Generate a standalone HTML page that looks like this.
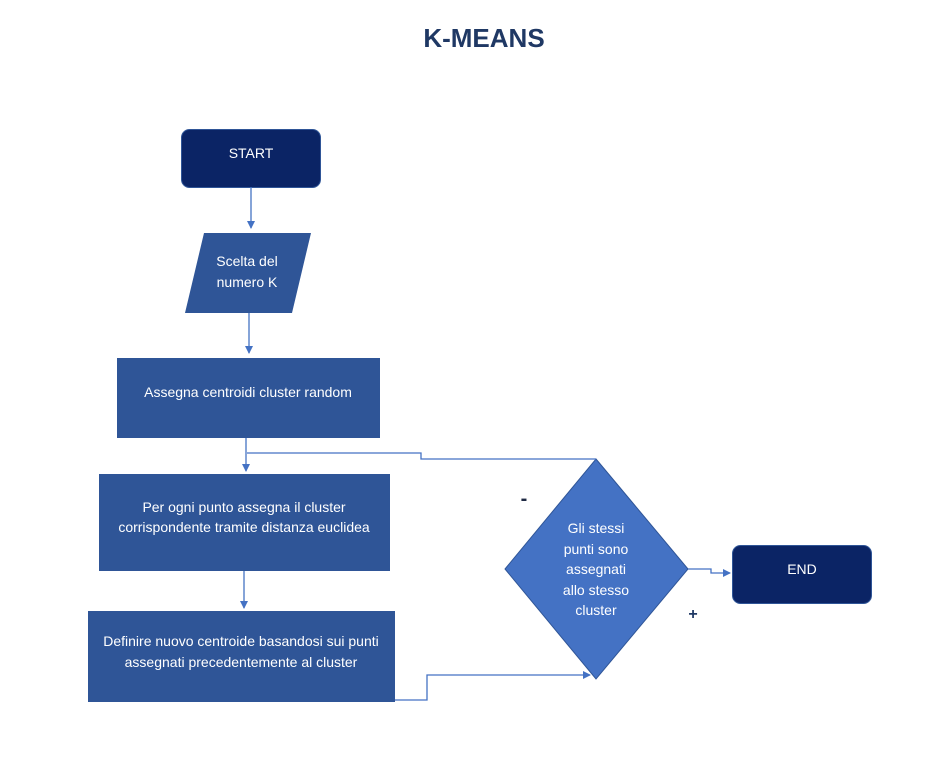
<!DOCTYPE html>
<html><head><meta charset="utf-8"><style>
body{margin:0;background:#fff;}
svg{display:block;}
text{font-family:"Liberation Sans",sans-serif;fill:#fff;font-size:14px;}
</style></head><body>
<svg width="944" height="768" viewBox="0 0 944 768">
<defs><marker id="a" markerWidth="8" markerHeight="8" refX="7" refY="4" orient="auto" markerUnits="userSpaceOnUse"><path d="M0,0 L8,4 L0,8z" fill="#4472c4"/></marker></defs>
<text x="484" y="47" text-anchor="middle" style="font-size:26px;font-weight:bold;fill:#1f3864">K-MEANS</text>
<rect x="181.5" y="129.5" width="139" height="58" rx="8" fill="#0b2465" stroke="#2f5597"/>
<text x="251" y="158" text-anchor="middle">START</text>
<polygon points="204,233 311,233 292,313 185,313" fill="#2f5597"/>
<text x="247" y="266" text-anchor="middle">Scelta del</text>
<text x="247" y="287" text-anchor="middle">numero K</text>
<rect x="117" y="358" width="263" height="80" fill="#2f5597"/>
<text x="248" y="397" text-anchor="middle">Assegna centroidi cluster random</text>
<rect x="99" y="474" width="291" height="97" fill="#2f5597"/>
<text x="244" y="512" text-anchor="middle">Per ogni punto assegna il cluster</text>
<text x="244" y="532" text-anchor="middle">corrispondente tramite distanza euclidea</text>
<rect x="88" y="611" width="307" height="91" fill="#2f5597"/>
<text x="241" y="646" text-anchor="middle">Definire nuovo centroide basandosi sui punti</text>
<text x="241" y="667" text-anchor="middle">assegnati precedentemente al cluster</text>
<polygon points="596,459 688,569 596,679 505,569" fill="#4472c4" stroke="#2f5597"/>
<text x="596" y="533" text-anchor="middle">Gli stessi</text>
<text x="596" y="554" text-anchor="middle">punti sono</text>
<text x="596" y="574" text-anchor="middle">assegnati</text>
<text x="596" y="595" text-anchor="middle">allo stesso</text>
<text x="596" y="615" text-anchor="middle">cluster</text>
<rect x="732.5" y="545.5" width="139" height="58" rx="8" fill="#0b2465" stroke="#2f5597"/>
<text x="802" y="574" text-anchor="middle">END</text>
<text x="524" y="505" text-anchor="middle" style="fill:#1f2a44;font-size:20px;font-weight:bold">-</text>
<text x="693" y="619" text-anchor="middle" style="fill:#1f3864;font-size:16px;font-weight:bold">+</text>
<g stroke="#4472c4" stroke-width="1.3" fill="none">
<line x1="251" y1="187" x2="251" y2="228" marker-end="url(#a)"/>
<line x1="249" y1="313" x2="249" y2="353" marker-end="url(#a)"/>
<line x1="246" y1="438" x2="246" y2="471" marker-end="url(#a)"/>
<line x1="244" y1="571" x2="244" y2="608" marker-end="url(#a)"/>
<polyline points="596,459 421,459 421,453 247,453"/>
<polyline points="395,700 427,700 427,675 590,675" marker-end="url(#a)"/>
<polyline points="688,569 711,569 711,573 730,573" marker-end="url(#a)"/>
</g>
</svg>
</body></html>
